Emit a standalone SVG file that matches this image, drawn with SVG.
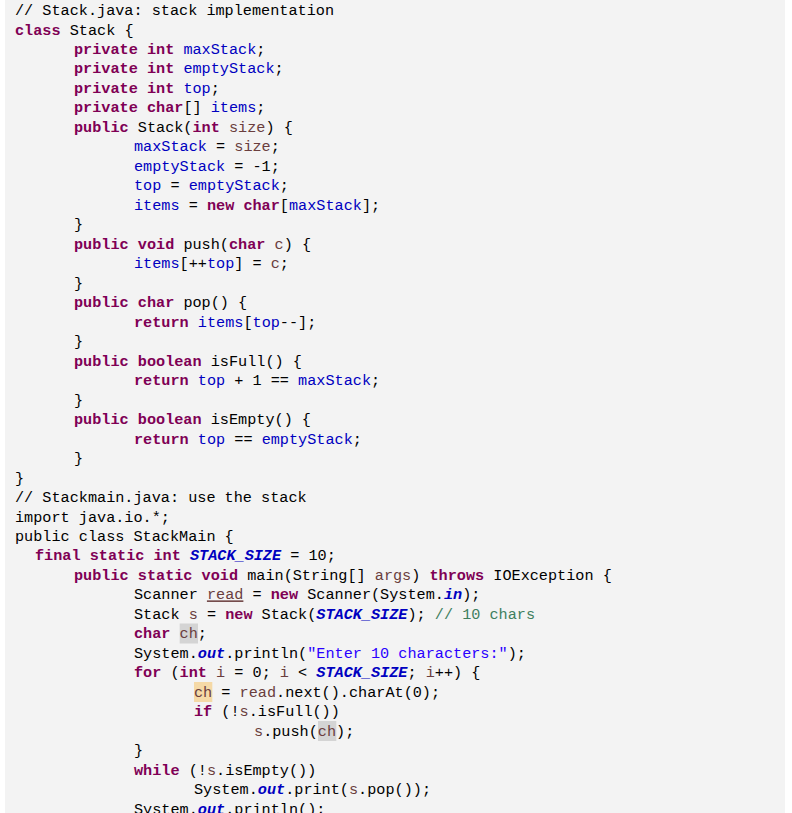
<svg xmlns="http://www.w3.org/2000/svg" width="792" height="813" viewBox="0 0 792 813">
<style>
text{font-family:"Liberation Mono","DejaVu Sans Mono",monospace;font-size:15.2px;fill:#000;white-space:pre}
.k{fill:#7f0055;font-weight:bold}
.f{fill:#0000c0}
.v{fill:#6a3e3e}
.c{fill:#3f7f5f}
.s{fill:#2a00ff}
.fi{fill:#0000c0;font-style:italic;font-weight:bold}
.si{fill:#0000c0;font-style:italic}
</style>
<rect x="0" y="0" width="792" height="813" fill="#ffffff"/>
<rect x="5" y="0" width="780" height="813" fill="#f3f3f3"/>
<g id="highlights">
<rect x="179.7" y="623.5" width="18.3" height="20" fill="#d4d4d4"/>
<rect x="194" y="682" width="18.3" height="20" fill="#f5d9a6"/>
<rect x="318" y="721" width="18.3" height="20" fill="#d4d4d4"/>
</g>
<g id="code">
<text x="15" y="15">// Stack.java: stack implementation</text>
<text x="15" y="34.5"><tspan class="k">class</tspan> Stack {</text>
<text x="74" y="54"><tspan class="k">private int</tspan> <tspan class="f">maxStack</tspan>;</text>
<text x="74" y="73.4"><tspan class="k">private int</tspan> <tspan class="f">emptyStack</tspan>;</text>
<text x="74" y="92.9"><tspan class="k">private int</tspan> <tspan class="f">top</tspan>;</text>
<text x="74" y="112.4"><tspan class="k">private char</tspan>[] <tspan class="f">items</tspan>;</text>
<text x="74" y="131.9"><tspan class="k">public</tspan> Stack(<tspan class="k">int</tspan> <tspan class="v">size</tspan>) {</text>
<text x="134" y="151.4"><tspan class="f">maxStack</tspan> = <tspan class="v">size</tspan>;</text>
<text x="134" y="170.8"><tspan class="f">emptyStack</tspan> = -1;</text>
<text x="134" y="190.3"><tspan class="f">top</tspan> = <tspan class="f">emptyStack</tspan>;</text>
<text x="134" y="209.8"><tspan class="f">items</tspan> = <tspan class="k">new char</tspan>[<tspan class="f">maxStack</tspan>];</text>
<text x="74" y="229.3">}</text>
<text x="74" y="248.8"><tspan class="k">public void</tspan> push(<tspan class="k">char</tspan> <tspan class="v">c</tspan>) {</text>
<text x="134" y="268.2"><tspan class="f">items</tspan>[++<tspan class="f">top</tspan>] = <tspan class="v">c</tspan>;</text>
<text x="74" y="287.7">}</text>
<text x="74" y="307.2"><tspan class="k">public char</tspan> pop() {</text>
<text x="134" y="326.7"><tspan class="k">return</tspan> <tspan class="f">items</tspan>[<tspan class="f">top</tspan>--];</text>
<text x="74" y="346.2">}</text>
<text x="74" y="365.6"><tspan class="k">public boolean</tspan> isFull() {</text>
<text x="134" y="385.1"><tspan class="k">return</tspan> <tspan class="f">top</tspan> + 1 == <tspan class="f">maxStack</tspan>;</text>
<text x="74" y="404.6">}</text>
<text x="74" y="424.1"><tspan class="k">public boolean</tspan> isEmpty() {</text>
<text x="134" y="443.6"><tspan class="k">return</tspan> <tspan class="f">top</tspan> == <tspan class="f">emptyStack</tspan>;</text>
<text x="74" y="463">}</text>
<text x="15" y="482.5">}</text>
<text x="15" y="502">// Stackmain.java: use the stack</text>
<text x="15" y="521.5">import java.io.*;</text>
<text x="15" y="541">public class StackMain {</text>
<text x="35" y="560.4"><tspan class="k">final static int</tspan> <tspan class="fi">STACK_SIZE</tspan> = 10;</text>
<text x="74" y="579.9"><tspan class="k">public static void</tspan> main(String[] <tspan class="v">args</tspan>) <tspan class="k">throws</tspan> IOException {</text>
<text x="134" y="599.4">Scanner <tspan class="v" text-decoration="underline">read</tspan> = <tspan class="k">new</tspan> Scanner(System.<tspan class="fi">in</tspan>);</text>
<text x="134" y="618.9">Stack <tspan class="v">s</tspan> = <tspan class="k">new</tspan> Stack(<tspan class="fi">STACK_SIZE</tspan>); <tspan class="c">// 10 chars</tspan></text>
<text x="134" y="638.4"><tspan class="k">char</tspan> <tspan class="v">ch</tspan>;</text>
<text x="134" y="657.8">System.<tspan class="fi">out</tspan>.println(<tspan class="s">"Enter 10 characters:"</tspan>);</text>
<text x="134" y="677.3"><tspan class="k">for</tspan> (<tspan class="k">int</tspan> <tspan class="v">i</tspan> = 0; <tspan class="v">i</tspan> &lt; <tspan class="fi">STACK_SIZE</tspan>; <tspan class="v">i</tspan>++) {</text>
<text x="194" y="696.8"><tspan class="v">ch</tspan> = <tspan class="v">read</tspan>.next().charAt(0);</text>
<text x="194" y="716.3"><tspan class="k">if</tspan> (!<tspan class="v">s</tspan>.isFull())</text>
<text x="254" y="735.8"><tspan class="v">s</tspan>.push(<tspan class="v">ch</tspan>);</text>
<text x="134" y="755.2">}</text>
<text x="134" y="774.7"><tspan class="k">while</tspan> (!<tspan class="v">s</tspan>.isEmpty())</text>
<text x="194" y="794.2">System.<tspan class="fi">out</tspan>.print(<tspan class="v">s</tspan>.pop());</text>
<text x="134" y="813.7">System.<tspan class="fi">out</tspan>.println();</text>
</g>
</svg>
